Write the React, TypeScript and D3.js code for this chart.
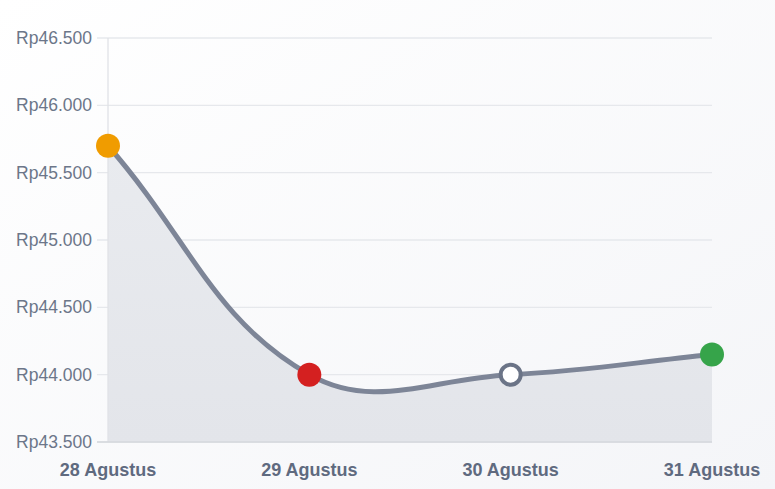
import * as d3 from "d3";

const dates = ["28 Agustus", "29 Agustus", "30 Agustus", "31 Agustus"];
const prices = [45700, 44000, 44000, 44150];
const pointColors = ["#f09c00", "#d42020", "#ffffff", "#36a44a"];
const yTickValues = [43500, 44000, 44500, 45000, 45500, 46000, 46500];

const W = 775;
const H = 489;
const pad = { t: 38, r: 63, b: 47, l: 108 };

const fmt = (v: number) => "Rp" + d3.format(",")(v).replace(/,/g, ".");

// Chart.js style bezier (tension 0.4)
function splinePath(pts: [number, number][], tension = 0.4, closeTo?: number) {
  const cps = pts.map((cur, i) => {
    const prev = pts[i - 1] ?? cur;
    const next = pts[i + 1] ?? cur;
    const d01 = Math.hypot(cur[0] - prev[0], cur[1] - prev[1]);
    const d12 = Math.hypot(next[0] - cur[0], next[1] - cur[1]);
    const sum = d01 + d12 || 1;
    const fa = (tension * d01) / sum;
    const fb = (tension * d12) / sum;
    return {
      c1: [cur[0] - fa * (next[0] - prev[0]), cur[1] - fa * (next[1] - prev[1])],
      c2: [cur[0] + fb * (next[0] - prev[0]), cur[1] + fb * (next[1] - prev[1])],
    };
  });
  const p = d3.path();
  p.moveTo(pts[0][0], pts[0][1]);
  for (let i = 1; i < pts.length; i++) {
    const a = cps[i - 1].c2;
    const b = cps[i].c1;
    p.bezierCurveTo(a[0], a[1], b[0], b[1], pts[i][0], pts[i][1]);
  }
  if (closeTo !== undefined) {
    p.lineTo(pts[pts.length - 1][0], closeTo);
    p.lineTo(pts[0][0], closeTo);
    p.closePath();
  }
  return p.toString();
}

export default function App() {
  const x = d3.scalePoint<string>().domain(dates).range([pad.l, W - pad.r]);
  const y = d3.scaleLinear().domain([43500, 46500]).range([H - pad.b, pad.t]);
  const pts: [number, number][] = prices.map((v, i) => [x(dates[i])!, y(v)]);
  const bottom = y(43500);

  return (
    <svg
      width={W}
      height={H}
      viewBox={`0 0 ${W} ${H}`}
      style={{ position: "absolute", left: 0, top: 0, fontFamily: "'Liberation Sans', Arial, sans-serif" }}
    >
      <defs>
        <linearGradient id="bg" x1="0" y1="0" x2="1" y2="1">
          <stop offset="0" stopColor="#ffffff" />
          <stop offset="1" stopColor="#f4f5f8" />
        </linearGradient>
        <linearGradient id="area" x1="0" y1="0" x2="0" y2="1">
          <stop offset="0" stopColor="#e9ebef" />
          <stop offset="1" stopColor="#e3e5ea" />
        </linearGradient>
      </defs>
      <rect width={W} height={H} fill="url(#bg)" />

      {yTickValues.map((t) => (
        <g key={t}>
          <line x1={pad.l - 11} x2={W - pad.r} y1={y(t)} y2={y(t)} stroke="#e6e8ec" strokeWidth={1.3} />
          <text x={92} y={y(t) + 6} textAnchor="end" fontSize={17.5} fill="#6c7689">
            {fmt(t)}
          </text>
        </g>
      ))}

      <path d={splinePath(pts, 0.4, bottom)} fill="url(#area)" />

      <line x1={pad.l} x2={pad.l} y1={pad.t} y2={bottom} stroke="#e0e2e6" strokeWidth={1.3} />
      <line x1={pad.l - 11} x2={W - pad.r} y1={bottom} y2={bottom} stroke="#d4d7dc" strokeWidth={1.3} />

      <path d={splinePath(pts, 0.4)} fill="none" stroke="#7d8597" strokeWidth={5} strokeLinecap="round" />

      {pts.map((p, i) => (
        <circle
          key={dates[i]}
          cx={p[0]}
          cy={p[1]}
          r={pointColors[i] === "#ffffff" ? 10 : 12}
          fill={pointColors[i]}
          stroke={pointColors[i] === "#ffffff" ? "#6b7487" : "none"}
          strokeWidth={4}
        />
      ))}

      {dates.map((d) => (
        <text key={d} x={x(d)} y={476} textAnchor="middle" fontSize={18} fontWeight="bold" fill="#5f6a7f">
          {d}
        </text>
      ))}
    </svg>
  );
}
